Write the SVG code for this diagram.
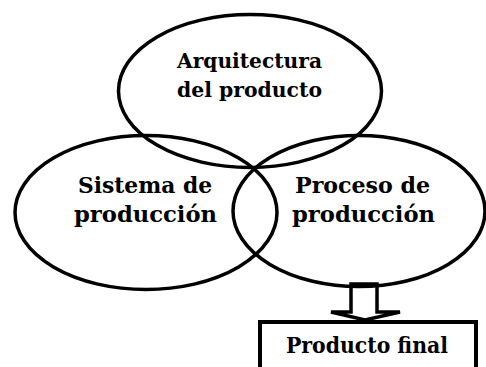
<svg xmlns="http://www.w3.org/2000/svg" width="486" height="367" viewBox="0 0 486 367">
<style>
.bg{fill:#ffffff}
.ell{fill:none;stroke:#000;stroke-width:3.5}
.box{fill:#fff;stroke:#000;stroke-width:4}
.arr{fill:#fff;stroke:#000;stroke-width:3.5;stroke-linejoin:miter}
.t{font-family:"DejaVu Serif","Liberation Serif",serif;font-weight:bold;fill:#000;text-anchor:middle}
.t1{font-size:21px}
.t2{font-size:23px}
.t3{font-size:22px}
</style>
<rect class="bg" x="0" y="0" width="486" height="367"/>
<g id="connectors">
<polygon class="arr" points="351,284 351,312 331,312 365,320 400,312 377,312 377,284"/>
</g>
<g id="arquitectura">
<ellipse class="ell" cx="250" cy="91" rx="131.5" ry="76.5"/>
<text class="t t1" x="249.5" y="68" textLength="145" lengthAdjust="spacingAndGlyphs">Arquitectura</text>
<text class="t t1" x="249.5" y="97" textLength="145" lengthAdjust="spacingAndGlyphs">del producto</text>
</g>
<g id="sistema">
<ellipse class="ell" cx="146" cy="212.5" rx="131" ry="77"/>
<text class="t t2" x="145" y="193" textLength="134" lengthAdjust="spacingAndGlyphs">Sistema de</text>
<text class="t t2" x="145.5" y="222" textLength="143" lengthAdjust="spacingAndGlyphs">producción</text>
</g>
<g id="proceso">
<ellipse class="ell" cx="359" cy="211" rx="126" ry="75.5"/>
<text class="t t2" x="362.5" y="193" textLength="135" lengthAdjust="spacingAndGlyphs">Proceso de</text>
<text class="t t2" x="363.5" y="222" textLength="143" lengthAdjust="spacingAndGlyphs">producción</text>
</g>
<g id="producto-final">
<rect class="box" x="260" y="322" width="216" height="60"/>
<text class="t t3" x="367" y="353" textLength="162" lengthAdjust="spacingAndGlyphs">Producto final</text>
</g>
</svg>
